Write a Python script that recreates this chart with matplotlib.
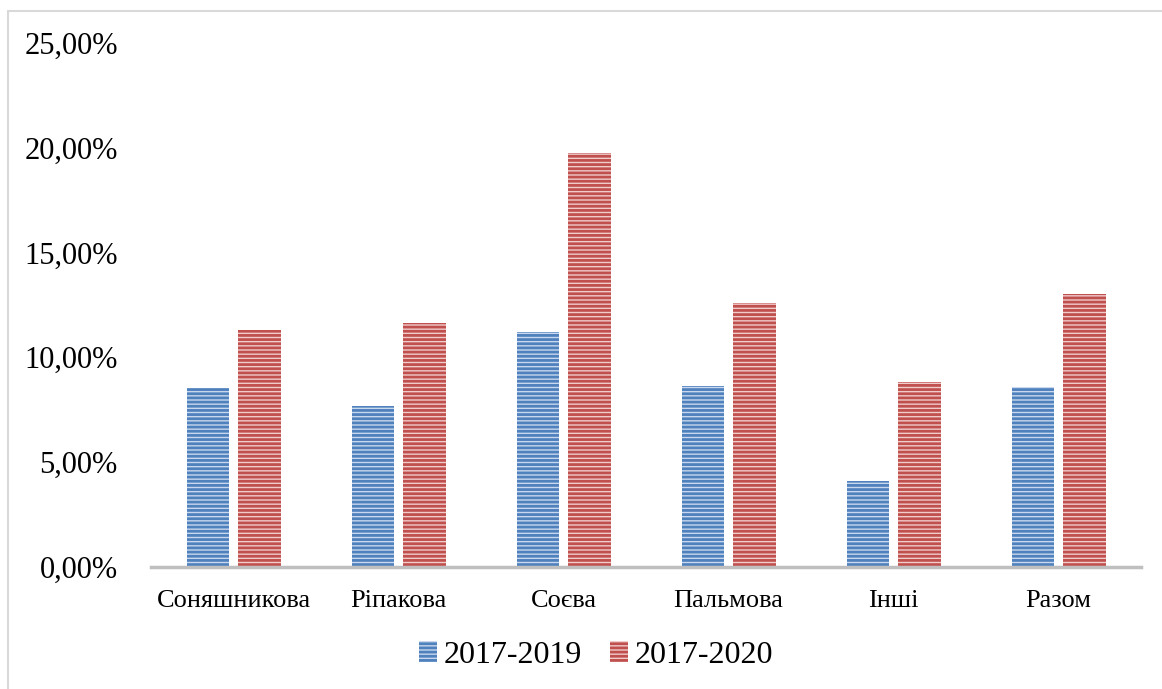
import numpy as np
import matplotlib.pyplot as plt
from matplotlib.patches import Rectangle

plt.rcParams['font.family'] = ['Liberation Serif', 'DejaVu Serif']
plt.rcParams['hatch.linewidth'] = 2.0

# Дані діаграми
categories = ["Соняшникова", "Ріпакова", "Соєва", "Пальмова", "Інші", "Разом"]
series_names = ["2017-2019", "2017-2020"]
values_2019 = [8.52, 7.66, 11.20, 8.62, 4.10, 8.57]
values_2020 = [11.30, 11.64, 19.75, 12.60, 8.83, 13.02]
y_ticks = [0, 5, 10, 15, 20, 25]

fig = plt.figure(figsize=(11.62, 6.89), dpi=100)
ax = fig.add_axes([0.13, 0.1775, 0.852, 0.76])

x = np.arange(len(categories))
w = 0.255
off = 0.157
ax.bar(x - off, values_2019, w, facecolor="#c9d8ee", edgecolor="#4f81bd",
       hatch="----", linewidth=0, label=series_names[0])
ax.bar(x + off, values_2020, w, facecolor="#f0cccb", edgecolor="#c0504d",
       hatch="----", linewidth=0, label=series_names[1])

ax.set_xlim(-0.5, len(categories) - 0.5)
ax.set_ylim(0, 25)
ax.set_yticks(y_ticks)
ax.set_yticklabels([f"{t:.2f}".replace(".", ",") + "%" for t in y_ticks], fontsize=22)
ax.set_xticks(x)
ax.set_xticklabels(categories, fontsize=19)
ax.tick_params(axis="both", length=0)
ax.tick_params(axis="x", pad=17)
ax.tick_params(axis="y", pad=24)
for s in ["top", "right", "left"]:
    ax.spines[s].set_visible(False)
ax.spines["bottom"].set_color("#bfbfbf")
ax.spines["bottom"].set_linewidth(2.5)

ax.legend(loc="center", bbox_to_anchor=(0.513, 0.049), bbox_transform=fig.transFigure,
          ncol=2, frameon=False, fontsize=23, handlelength=0.55, handleheight=0.6,
          handletextpad=0.2, columnspacing=0.9, borderpad=0)

# рамка навколо діаграми
fig.patches.append(Rectangle((8 / 1162, -0.1), 1.2, 1 - 11 / 689 + 0.1,
                             transform=fig.transFigure, fill=False,
                             edgecolor="#d9d9d9", linewidth=1.5))

fig.savefig("out.png", dpi=100)
